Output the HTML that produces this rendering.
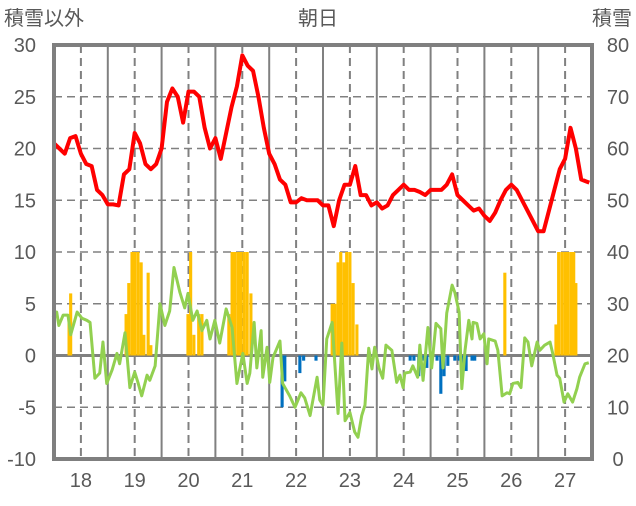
<!DOCTYPE html>
<html><head><meta charset="utf-8"><style>
body{margin:0;background:#fff;}
svg text{font-family:"Liberation Sans","Noto Sans CJK JP",sans-serif;fill:#595959;}
</style></head><body>
<svg id="chart" width="636" height="501" viewBox="0 0 636 501" xmlns="http://www.w3.org/2000/svg">
<text x="4" y="25" font-size="20">積雪以外</text>
<text x="318" y="25" font-size="20" text-anchor="middle">朝日</text>
<text x="632" y="25" font-size="20" text-anchor="end">積雪</text>
<g id="grid"></g>
<g id="bars"></g>
<g id="lines"></g>
<g id="axes"></g>
</svg>
<script>
const yearLabels=["18","19","20","21","22","23","24","25","26","27"];
const leftTicks=[30,25,20,15,10,5,0,-5,-10];
const rightTicks=[80,70,60,50,40,30,20,10,0];
const redT=[17.5,17.6,17.7,17.8,17.9,18.0,18.1,18.2,18.3,18.4,18.5,18.6,18.7,18.8,18.9,19.0,19.1,19.2,19.3,19.4,19.5,19.6,19.7,19.8,19.9,20.0,20.1,20.2,20.3,20.4,20.5,20.6,20.7,20.8,20.9,21.0,21.1,21.2,21.3,21.4,21.5,21.6,21.7,21.8,21.9,22.0,22.1,22.2,22.3,22.4,22.5,22.6,22.7,22.8,22.9,23.0,23.1,23.2,23.3,23.4,23.5,23.6,23.7,23.8,23.9,24.0,24.1,24.2,24.3,24.4,24.5,24.6,24.7,24.8,24.9,25.0,25.1,25.2,25.3,25.4,25.5,25.6,25.7,25.8,25.9,26.0,26.1,26.2,26.3,26.4,26.5,26.6,26.7,26.8,26.9,27.0,27.1,27.2,27.3,27.4,27.45];
const redV=[20.5,20,19.5,21,21.2,19.5,18.5,18.3,16,15.5,14.6,14.6,14.5,17.5,18,21.5,20.5,18.5,18,18.5,20,24.5,25.8,25,22.5,25.5,25.5,25,22,20,21,19,21.5,24,26,29,28,27.5,25,22,19.5,18.5,17,16.5,14.8,14.8,15.2,15,15,15,14.5,14.5,12.5,15,16.5,16.5,18.3,15.5,15.5,14.5,14.8,14.2,14.5,15.5,16,16.5,16,16,15.8,15.5,16,16,16,16.5,17.5,15.5,15,14.5,14,14.2,13.5,13,13.8,15,16,16.5,16,15,14,13,12,12,14,16,18,19,22,20,17,16.8,16.7];
const greenT=[17.48,17.55,17.59,17.67,17.76,17.81,17.93,18.02,18.11,18.17,18.26,18.35,18.41,18.48,18.58,18.67,18.72,18.82,18.91,19.0,19.06,19.13,19.23,19.28,19.38,19.47,19.56,19.65,19.73,19.84,19.93,19.99,20.08,20.16,20.25,20.34,20.40,20.49,20.58,20.70,20.81,20.90,21.01,21.09,21.14,21.22,21.27,21.35,21.38,21.46,21.51,21.57,21.70,21.75,21.88,21.98,22.09,22.16,22.26,22.39,22.44,22.50,22.57,22.67,22.78,22.85,22.91,23.0,23.09,23.15,23.22,23.28,23.35,23.41,23.46,23.54,23.61,23.67,23.78,23.87,23.93,23.99,24.02,24.12,24.17,24.26,24.30,24.36,24.45,24.52,24.60,24.69,24.73,24.80,24.90,24.95,25.03,25.08,25.14,25.21,25.27,25.29,25.36,25.42,25.49,25.55,25.58,25.70,25.75,25.83,25.92,25.97,26.03,26.12,26.18,26.25,26.31,26.38,26.48,26.53,26.62,26.72,26.77,26.85,26.90,26.98,27.05,27.14,27.22,27.27,27.37,27.44];
const greenV=[3.7,4.2,2.9,3.9,3.9,2.0,4.2,3.6,3.4,3.2,-2.2,-1.7,1.3,-2.7,-1.4,0.2,-0.8,2.2,-3.1,-1.6,-2.6,-3.9,-1.9,-2.4,-1.0,5.0,2.9,4.3,8.5,6.1,4.6,6.0,3.4,4.3,2.4,3.4,1.6,3.4,1.2,4.5,2.7,-2.7,0.2,-2.7,-1.7,3.2,-1.2,2.4,-2.1,0.8,-2.6,-0.2,1.4,-2.7,-3.9,-5.0,-3.6,-4.1,-5.8,-2.1,-4.3,-4.8,1.6,3.2,-5.6,1.2,-6.3,-5.5,-7.4,-7.9,-5.8,-4.8,0.7,-1.3,0.8,-1.2,-2.2,1.0,0.5,-2.6,-1.9,-3.1,-1.7,-1.6,-1.0,-2.1,1.0,-2.4,2.7,-1.2,3.1,2.6,-1.2,4.1,6.8,6.1,4.2,-3.2,0.5,3.4,1.6,3.2,3.1,1.6,2.1,-0.8,1.6,1.4,0.5,-3.9,-3.6,-3.7,-2.7,-2.6,-3.1,1.7,1.3,-1.0,1.3,0.5,1.0,1.3,0.2,-1.9,-2.2,-4.5,-3.7,-4.5,-3.2,-2.1,-0.8,-0.7];
const snowT=[17.78,17.81,18.84,18.89,18.95,19.0,19.06,19.12,19.17,19.25,19.30,19.99,20.04,20.10,20.19,20.25,20.75,20.81,20.86,20.92,20.97,21.03,21.09,21.16,22.67,22.72,22.78,22.83,22.89,22.94,23.0,23.06,23.13,25.88,26.83,26.88,26.94,27.0,27.05,27.11,27.16,27.20];
const snowV=[4,6,4,7,10,10,10,9,2,8,1,4,10,2,4,4,4,10,10,10,10,10,10,6,5,5,9,10,9,10,10,7,3,8,3,10,10,10,10,10,10,7];
const negT=[21.74,21.79,22.07,22.14,22.37,24.12,24.19,24.28,24.36,24.43,24.51,24.62,24.69,24.75,24.82,24.95,25.03,25.10,25.16,25.27,25.32];
const negV=[-5,-2.5,-1.7,-0.5,-0.5,-0.5,-0.5,-2,-0.5,-1.2,-0.3,-0.5,-3.7,-2,-1,-0.5,-0.5,-1.5,-1.5,-0.5,-0.5];

const L=54,R=592,T=45,B=459;
const xs=t=>L+(t-17.5)/10*(R-L);
const ys=v=>T+(30-v)/40*(B-T);
const yr=v=>B-v/80*(B-T);
const NS="http://www.w3.org/2000/svg";
function mk(tag,parent,attrs){const e=document.createElementNS(NS,tag);for(const k in attrs)e.setAttribute(k,attrs[k]);parent.appendChild(e);return e;}
const grid=document.getElementById('grid'),bars=document.getElementById('bars'),lines=document.getElementById('lines'),axes=document.getElementById('axes');
leftTicks.forEach(v=>{
  const ln=mk('line',grid,{x1:L,x2:R,y1:ys(v),y2:ys(v),stroke:'#808080','stroke-width':v===0?3:1.5,'stroke-dasharray':v===0?'none':'8,5'});
  
  
  const tx=mk('text',axes,{x:36,y:ys(v)+7,'font-size':20,'text-anchor':'end'});
  tx.textContent=v;
  
  
});
rightTicks.forEach(v=>{
  const tx=mk('text',axes,{x:618,y:yr(v)+7,'font-size':20,'text-anchor':'middle'});
  tx.textContent=v;
  
  
});
yearLabels.forEach((lab,i)=>{
  const t=18+i;
  const d=mk('line',grid,{x1:xs(t),x2:xs(t),y1:T,y2:B,stroke:'#808080','stroke-width':2,'stroke-dasharray':'8,5'});
  
  
  if(i>0){const s=mk('line',grid,{x1:xs(t-0.5),x2:xs(t-0.5),y1:T,y2:B,stroke:'#808080','stroke-width':2});
  
  }
  const tx=mk('text',axes,{x:xs(t),y:487,'font-size':20,'text-anchor':'middle'});
  tx.textContent=lab;
  
  
});
const bw=xs(17.5+0.058)-xs(17.5);
snowT.forEach((t,i)=>{
  const r=mk('rect',bars,{x:xs(t)-bw/2,y:ys(snowV[i]),width:bw,height:ys(0)-ys(snowV[i]),fill:'#ffc000'});
  
  
});
negT.forEach((t,i)=>{
  const r=mk('rect',bars,{x:xs(t)-bw/2,y:ys(0),width:bw,height:ys(negV[i])-ys(0),fill:'#0070c0'});
  
  
});
const g=mk('polyline',lines,{points:greenT.map((t,i)=>xs(t)+','+ys(greenV[i])).join(' '),fill:'none',stroke:'#92d050','stroke-width':3,'stroke-linejoin':'round'});


const r=mk('polyline',lines,{points:redT.map((t,i)=>xs(t)+','+ys(redV[i])).join(' '),fill:'none',stroke:'#ff0000','stroke-width':4,'stroke-linejoin':'round'});


const fr=mk('rect',axes,{x:L,y:T,width:R-L,height:B-T,fill:'none',stroke:'#7f7f7f','stroke-width':4});


</script>
</body></html>
